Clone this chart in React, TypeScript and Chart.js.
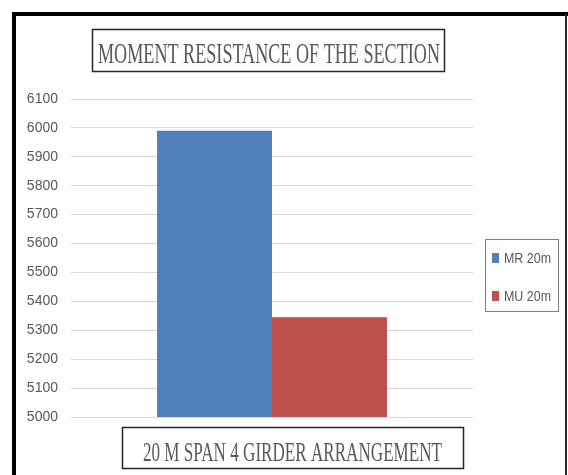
import React, { useEffect, useRef } from "react";
import { Chart, registerables } from "chart.js";

Chart.register(...registerables);

const categories = [""];
const seriesNames = ["MR 20m", "MU 20m"];
const mrValues = [5990];
const muValues = [5345];
const seriesColors = ["#4F81BD", "#C0504D"];
const yMin = 5000;
const yMax = 6100;
const yStep = 100;
const chartTitle = "MOMENT RESISTANCE OF THE SECTION";
const xTitle = "20 M SPAN 4 GIRDER ARRANGEMENT";

function drawFitted(
  ctx: CanvasRenderingContext2D,
  text: string,
  x: number,
  baseline: number,
  targetW: number,
  font: string,
  color: string,
  align: "center" | "left"
) {
  ctx.save();
  ctx.font = font;
  const w = ctx.measureText(text).width;
  const s = targetW / w;
  ctx.translate(x, baseline);
  ctx.scale(s, 1);
  ctx.textAlign = align;
  ctx.textBaseline = "alphabetic";
  ctx.fillStyle = color;
  ctx.fillText(text, 0, 0);
  ctx.restore();
}

const decorPlugin = {
  id: "decor",
  afterDraw(chart: any) {
    const ctx: CanvasRenderingContext2D = chart.ctx;
    ctx.save();
    // outer frame
    ctx.fillStyle = "#000";
    ctx.fillRect(12, 12, 556, 4);
    ctx.fillRect(12, 12, 4, 463);
    ctx.fillStyle = "#262626";
    ctx.fillRect(565, 14, 2, 461);

    // title box
    ctx.strokeStyle = "#262626";
    ctx.lineWidth = 1.5;
    ctx.strokeRect(92.5, 29.5, 352, 42);
    drawFitted(ctx, chartTitle, 269, 63, 342, "30px 'Liberation Serif', serif", "#595959", "center");

    // x title box
    ctx.strokeRect(122.5, 427.5, 341, 41);
    drawFitted(ctx, xTitle, 292.5, 461, 299, "28px 'Liberation Serif', serif", "#595959", "center");

    // legend
    ctx.strokeStyle = "#808080";
    ctx.lineWidth = 1;
    ctx.strokeRect(485.5, 239.5, 73, 72);
    const ys = [263, 301];
    chart.data.datasets.forEach((ds: any, i: number) => {
      ctx.fillStyle = ds.backgroundColor;
      ctx.fillRect(492, ys[i] - 10, 7, 10);
      drawFitted(ctx, ds.label, 504, ys[i], 47, "14px 'Liberation Sans', sans-serif", "#595959", "left");
    });
    ctx.restore();
  },
};

export default function App() {
  const ref = useRef<HTMLCanvasElement | null>(null);
  useEffect(() => {
    if (!ref.current) return;
    const chart = new Chart(ref.current, {
      type: "bar",
      data: {
        labels: categories,
        datasets: [
          { label: seriesNames[0], data: mrValues, backgroundColor: seriesColors[0] },
          { label: seriesNames[1], data: muValues, backgroundColor: seriesColors[1] },
        ],
      },
      options: {
        responsive: false,
        animation: false,
        devicePixelRatio: 1,
        layout: { padding: { left: 0, top: 99, right: 95, bottom: 58 } },
        plugins: { legend: { display: false }, title: { display: false }, tooltip: { enabled: false } },
        datasets: { bar: { categoryPercentage: 0.572, barPercentage: 1 } },
        scales: {
          x: { display: false },
          y: {
            min: yMin,
            max: yMax,
            border: { display: false },
            grid: { color: "#D9D9D9", lineWidth: 1, drawTicks: false },
            ticks: {
              stepSize: yStep,
              padding: 13,
              color: "#595959",
              font: { family: "'Liberation Sans Narrow', 'Liberation Sans', sans-serif", size: 14 },
              callback: (v: any) => String(v),
            },
            afterFit: (scale: any) => {
              scale.width = 71;
            },
          },
        },
      },
      plugins: [decorPlugin],
    } as any);
    return () => chart.destroy();
  }, []);
  return (
    <div style={{ position: "fixed", left: 0, top: 0, width: 568, height: 475, background: "#fff" }}>
      <canvas ref={ref} width={568} height={475} style={{ display: "block" }} />
    </div>
  );
}
